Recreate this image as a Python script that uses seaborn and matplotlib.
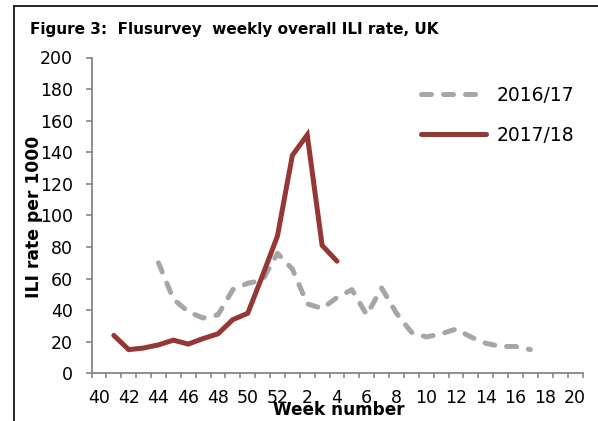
import matplotlib
matplotlib.use("Agg")
import matplotlib.pyplot as plt
import matplotlib.lines as mlines
import seaborn as sns
import pandas as pd
import numpy as np

weeks = [40, 41, 42, 43, 44, 45, 46, 47, 48, 49, 50, 51, 52,
         1, 2, 3, 4, 5, 6, 7, 8, 9, 10, 11, 12, 13, 14, 15, 16, 17, 18, 19, 20]
tick_labels = ["40", "42", "44", "46", "48", "50", "52", "2", "4", "6", "8",
               "10", "12", "14", "16", "18", "20"]
y_ticks = [0, 20, 40, 60, 80, 100, 120, 140, 160, 180, 200]

weeks_1617 = [44, 45, 46, 47, 48, 49, 50, 51, 52, 1, 2, 3, 4, 5, 6, 7, 8, 9,
              10, 11, 12, 13, 14, 15, 16, 17]
rate_1617 = [70, 47, 39, 35, 37, 53, 57, 59, 76, 66, 44, 41, 48, 53, 37, 54, 38,
             26, 23, 25, 28, 23, 19, 17, 17, 15]

weeks_1718 = [41, 42, 43, 44, 45, 46, 47, 48, 49, 50, 51, 52, 1, 2, 3, 4]
rate_1718 = [24, 15, 16, 18, 21, 18.5, 22, 25, 34, 38, 62, 87, 138, 151, 81, 71]

series = ["2016/17", "2017/18"]
colors = {"2016/17": "#A6A6A6", "2017/18": "#953735"}

pos = {w: i for i, w in enumerate(weeks)}
df1 = pd.DataFrame({"x": [pos[w] for w in weeks_1617], "y": rate_1617})
df2 = pd.DataFrame({"x": [pos[w] for w in weeks_1718], "y": rate_1718})

sns.set_style("white")
plt.rcParams["font.family"] = ["DejaVu Sans"]
plt.rcParams["text.color"] = "black"

fig = plt.figure(figsize=(5.98, 4.21), dpi=100)
ax = fig.add_axes([91.5 / 598, 47.7 / 421, (582.5 - 91.5) / 598, (373.3 - 57.5) / 421])

lw = 3.6
sns.lineplot(data=df1, x="x", y="y", ax=ax, color=colors["2016/17"], linewidth=lw)
sns.lineplot(data=df2, x="x", y="y", ax=ax, color=colors["2017/18"], linewidth=lw)
l1, l2 = ax.get_lines()[:2]
l1.set_linestyle((0, (2, 2.4)))
l1.set_dash_capstyle("round")
l1.set_solid_joinstyle("round")
l2.set_solid_capstyle("round")
l2.set_solid_joinstyle("miter")

ax.set_xlim(-0.5, len(weeks) - 0.5)
ax.set_ylim(0, 200)
ax.set_yticks(y_ticks)
ax.set_yticklabels([str(v) for v in y_ticks])
ax.set_xticks(list(range(0, len(weeks), 2)))
ax.set_xticklabels(tick_labels)
ax.set_xticks(np.arange(-0.5, len(weeks), 1), minor=True)

spine_c = "#868686"
for s in ["top", "right"]:
    ax.spines[s].set_visible(False)
for s in ["left", "bottom"]:
    ax.spines[s].set_color(spine_c)
    ax.spines[s].set_linewidth(1.3)

ax.tick_params(axis="y", which="major", direction="out", length=4.5, width=1.2,
               color=spine_c, labelsize=12.5, pad=9, left=True, labelcolor="black")
ax.tick_params(axis="x", which="major", length=0, labelsize=12.5, pad=11.5,
               labelcolor="black")
ax.tick_params(axis="x", which="minor", direction="out", length=3.6, width=1.2,
               color=spine_c, bottom=True)

ax.set_xlabel("Week number", fontsize=12.2, fontweight="bold", color="black")
ax.xaxis.set_label_coords(0.504, -0.089)
ax.set_ylabel("ILI rate per 1000", fontsize=12.3, fontweight="bold", color="black")
ax.yaxis.set_label_coords(-0.099, 0.495)

h1 = mlines.Line2D([], [], color=colors["2016/17"], linewidth=lw,
                   linestyle=(0, (2, 2.4)), dash_capstyle="round")
h2 = mlines.Line2D([], [], color=colors["2017/18"], linewidth=lw,
                   solid_capstyle="round")
ax.legend([h1, h2], series, loc="center left",
          bbox_to_anchor=((421 - 91.5) / 491, (373.3 - 115) / 316),
          frameon=False, fontsize=13.5, handlelength=3.45, handletextpad=0.58,
          labelspacing=1.12, borderpad=0, borderaxespad=0)

fig.text(30 / 598, 1 - 34 / 421, "Figure 3:  Flusurvey  weekly overall ILI rate, UK",
         fontsize=11.0, fontweight="bold", va="baseline", ha="left", color="black")

# outer frame (left and top edges visible)
fig.add_artist(mlines.Line2D([14 / 598, 14 / 598], [0, 1 - 6 / 421],
                             transform=fig.transFigure, color="black", linewidth=1.2))
fig.add_artist(mlines.Line2D([14 / 598, 1], [1 - 6 / 421, 1 - 6 / 421],
                             transform=fig.transFigure, color="black", linewidth=1.2))

fig.savefig("out.png", dpi=100)
